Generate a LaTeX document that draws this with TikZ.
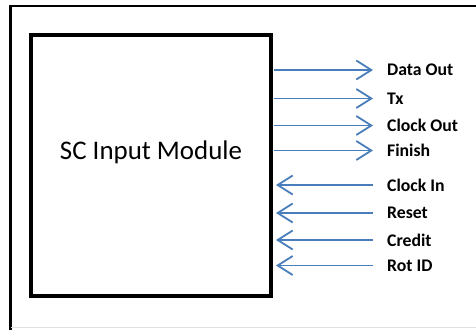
\documentclass[tikz,border=0pt]{standalone}
\usepackage{fontspec}
\setmainfont{Carlito}
\usetikzlibrary{arrows.meta}
\definecolor{sigblue}{HTML}{4A7EBB}
\tikzset{
  modbox/.style={draw=black, line width=4bp, minimum width=240bp, minimum height=261bp, inner sep=0pt},
  modtitle/.style={inner sep=0pt, font=\fontsize{27}{32}\selectfont},
  siglabel/.style={anchor=west, inner sep=0pt, font=\bfseries\fontsize{17.8}{21}\selectfont},
  sig/.style={draw=sigblue, line width=1.8bp, -{Straight Barb[length=15bp, width=19bp, line width=1.8bp]}},
}
\begin{document}
\begin{tikzpicture}[x=1bp, y=-1bp]
  \useasboundingbox (0,0) rectangle (476,329);
  % outer frame
  \draw[line width=2.5bp] (10.5,335) -- (10.5,6) -- (480,6);
  \draw[black!12, line width=1bp] (10.5,327.5) -- (480,327.5);
  % module
  \node[modbox] (mod) at (151,165.5) {};
  \node[modtitle] (modname) at (151,152) {SC Input Module};
  % outputs
  \foreach \n/\y/\t in {dout/70/Data Out, tx/98.5/Tx, cout/125.5/Clock Out, fin/150.5/Finish}{
    \coordinate (\n-s) at (274,\y);
    \coordinate (\n-e) at (373,\y);
    \node[siglabel] (\n) at (387,\y) {\t};
    \draw[sig] (\n-s) -- (\n-e);
  }
  % inputs
  \foreach \n/\y/\t in {cin/185/Clock In, rst/213/Reset, cred/240/Credit, rot/265.5/Rot ID}{
    \coordinate (\n-s) at (373,\y);
    \coordinate (\n-e) at (276,\y);
    \node[siglabel] (\n) at (387,\y) {\t};
    \draw[sig] (\n-s) -- (\n-e);
  }
\end{tikzpicture}
\end{document}
